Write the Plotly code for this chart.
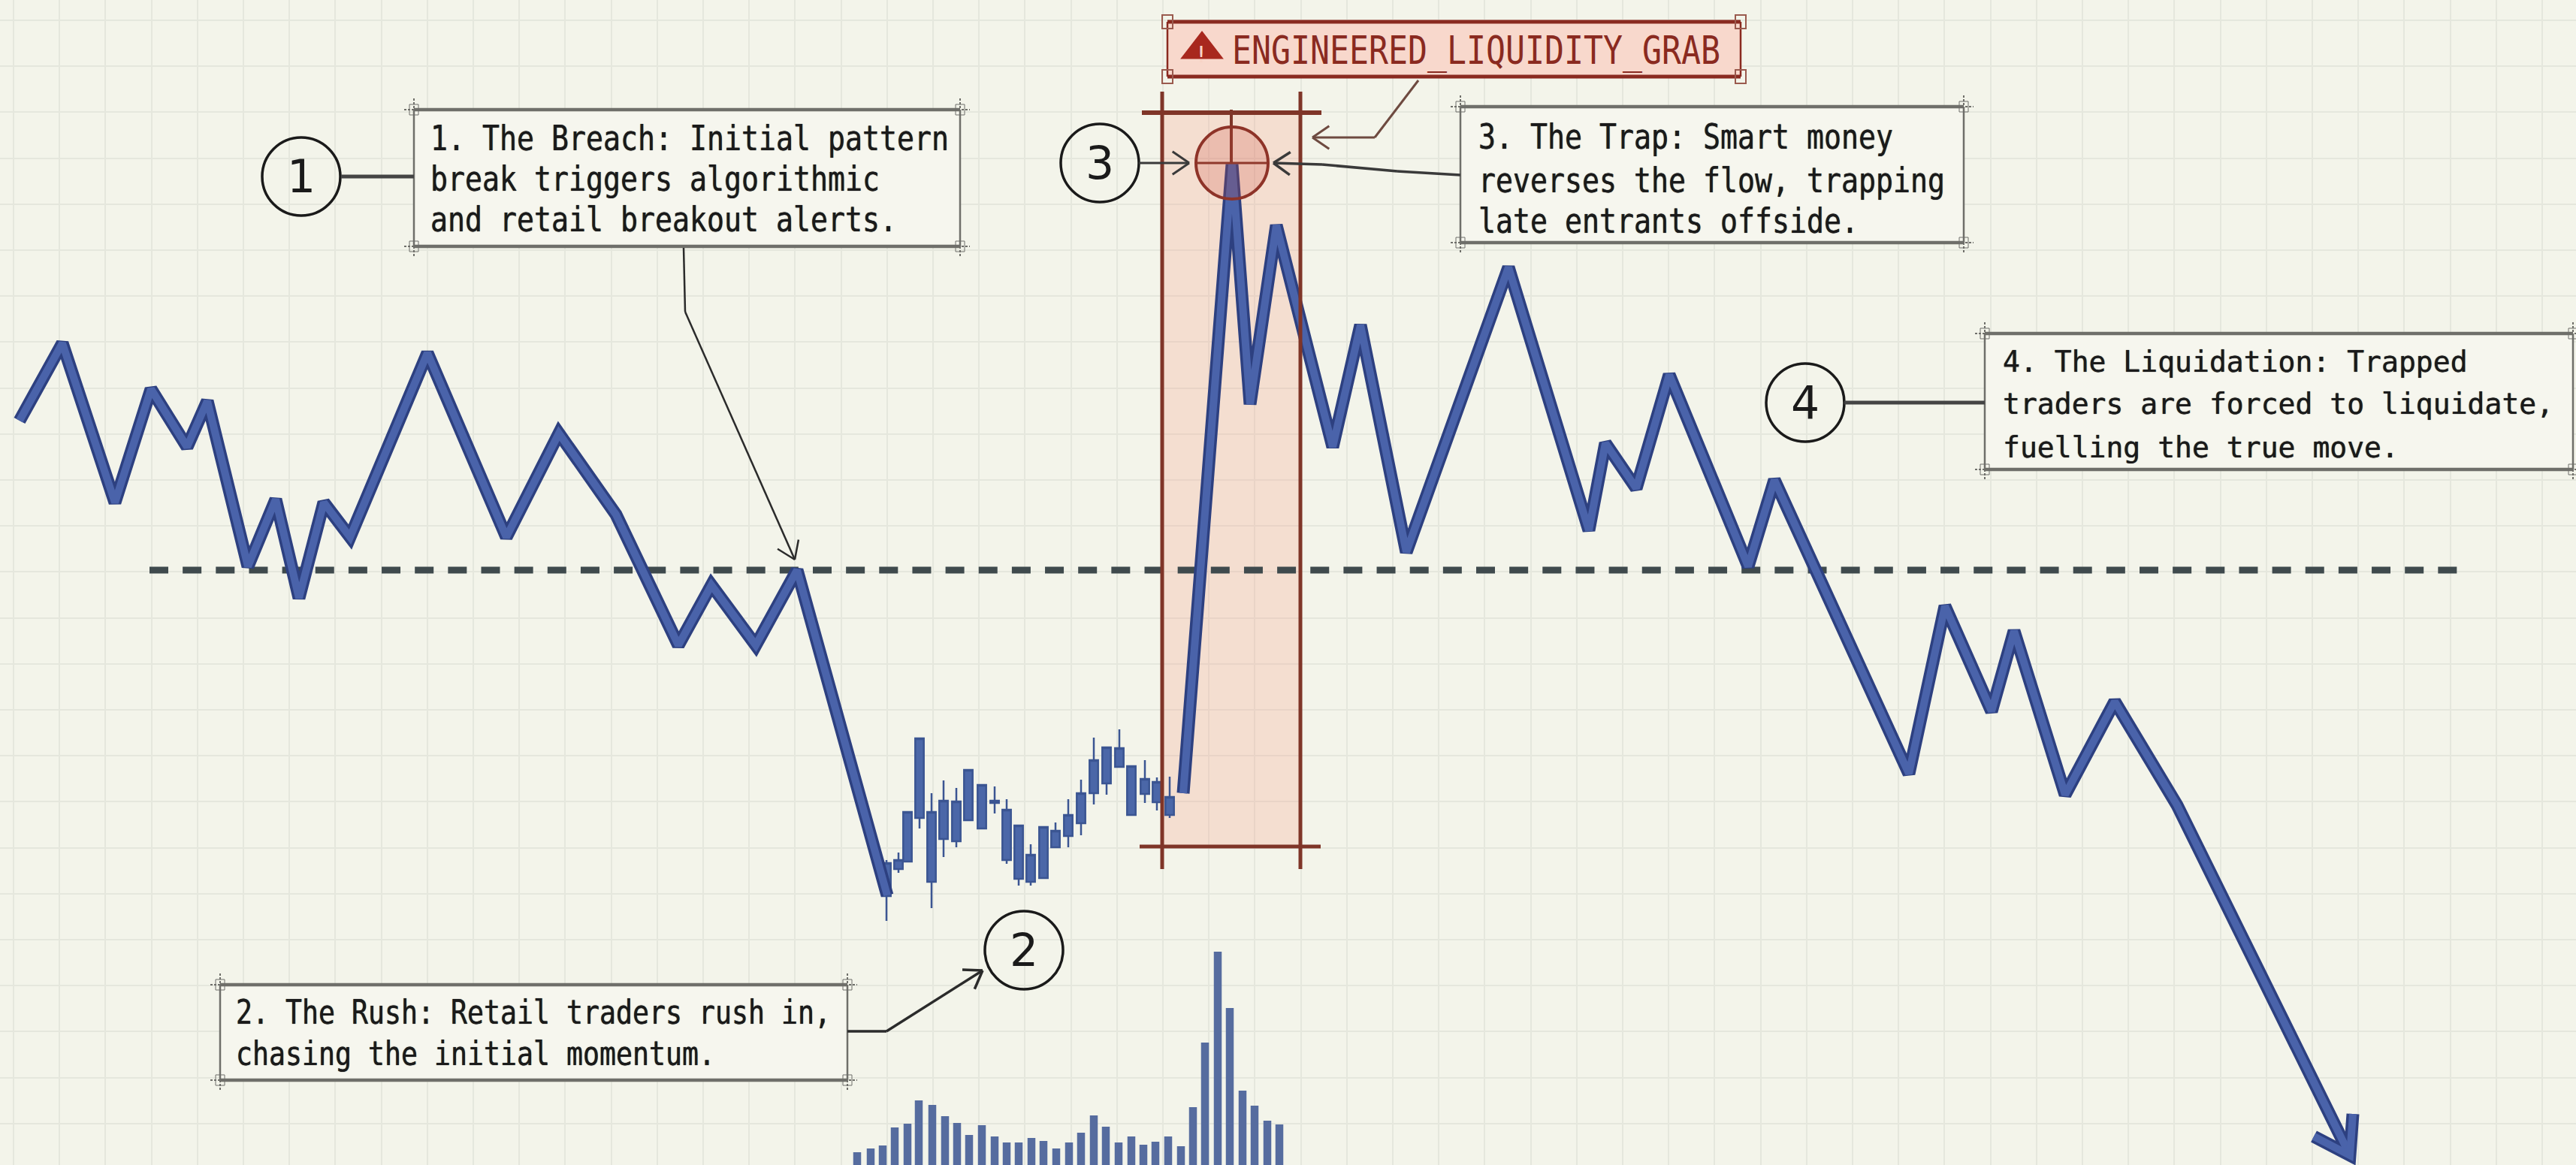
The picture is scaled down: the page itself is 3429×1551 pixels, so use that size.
import math
import plotly.graph_objects as go

W, H = 3429, 1551
BG = "#f3f4ea"; GRID = "#e5e7dd"; BOXFILL = "#f6f6ee"; INK = "#1a1a1a"; GREY = "#6f6f6a"
OUTLINE = "#2d4080"; INNER = "#4a63aa"; RED = "#8a2a20"; BROWN = "#7f3528"

# price path (x position, price level read on the reversed chart scale)
price_x_a = [26, 83, 153, 201, 249, 276, 330, 367, 398, 431, 466, 569, 674, 744, 820, 903, 947, 1006, 1061, 1181]
price_y_a = [560, 457, 669, 518, 595, 534, 754, 665, 796, 669, 715, 470, 715, 577, 685, 859, 779, 859, 759, 1192]
price_x_b = [1575, 1640, 1664, 1699, 1774, 1811, 1872, 2008, 2115, 2137, 2178, 2222, 2327, 2362, 2541, 2589, 2651, 2681, 2749, 2815, 2898, 3128]
price_y_b = [1056, 219, 538, 300, 595, 433, 735, 356, 706, 590, 650, 499, 754, 639, 1030, 807, 947, 840, 1058, 934, 1072, 1538]
arrow_x = [3080, 3128, 3132]
arrow_y = [1513, 1538, 1483]

# candles
candle_x = [1180, 1196, 1208, 1224, 1240, 1256, 1273, 1289, 1307, 1324, 1340, 1356, 1372, 1389, 1405, 1422, 1439, 1456, 1473, 1490, 1506, 1524, 1540, 1557]
candle_high = [1145, 1135, 1081, 983, 1056, 1039, 1049, 1025, 1045, 1047, 1064, 1099, 1124, 1101, 1095, 1064, 1038, 982, 995, 971, 1020, 1012, 1035, 1034]
candle_top = [1149, 1145, 1081, 983, 1081, 1066, 1067, 1025, 1045, 1066, 1078, 1099, 1138, 1101, 1106, 1085, 1056, 1012, 995, 996, 1020, 1037, 1041, 1061]
candle_bot = [1193, 1157, 1147, 1089, 1174, 1117, 1120, 1092, 1103, 1069, 1145, 1170, 1174, 1169, 1128, 1113, 1096, 1056, 1043, 1021, 1085, 1057, 1068, 1085]
candle_low = [1226, 1162, 1147, 1103, 1209, 1141, 1128, 1092, 1103, 1083, 1150, 1179, 1179, 1169, 1128, 1128, 1112, 1071, 1058, 1021, 1085, 1069, 1079, 1089]

# volume
vol_x = [1141, 1159, 1175, 1191, 1208, 1223, 1241, 1258, 1274, 1290, 1307, 1324, 1340, 1356, 1373, 1389, 1406, 1423, 1439, 1456, 1472, 1489, 1506, 1522, 1538, 1555, 1572, 1588, 1604, 1621, 1637, 1654, 1670, 1687, 1703]
vol_h = [17, 22, 26, 50, 55, 86, 80, 65, 56, 40, 53, 38, 30, 30, 36, 32, 22, 30, 43, 66, 51, 30, 38, 27, 31, 38, 25, 77, 163, 284, 209, 99, 79, 59, 54]

level = 759
level_x = [199, 3274]

# callouts: box extents and text lines
callouts = [
    dict(box=(551, 146, 1278, 328), size=46, x=571,
         lines=[("1. The Breach: Initial pattern", 184), ("break triggers algorithmic", 238), ("and retail breakout alerts.", 292)]),
    dict(box=(293, 1311, 1128, 1438), size=44, x=312,
         lines=[("2. The Rush: Retail traders rush in,", 1347), ("chasing the initial momentum.", 1402)]),
    dict(box=(1944, 142, 2614, 323), size=46, x=1966,
         lines=[("3. The Trap: Smart money", 182), ("reverses the flow, trapping", 240), ("late entrants offside.", 294)]),
    dict(box=(2642, 444, 3425, 625), size=39.5, x=2664,
         lines=[("4. The Liquidation: Trapped", 481), ("traders are forced to liquidate,", 537), ("fuelling the true move.", 595)]),
]
circles = [("1", 401, 235), ("2", 1363, 1265), ("3", 1464, 217), ("4", 2403, 536)]

shapes, annos = [], []


def seg(x0, y0, x1, y1, color=INK, width=3, layer="above", dash=None):
    shapes.append(dict(type="line", x0=x0, y0=y0, x1=x1, y1=y1, layer=layer,
                       line=dict(color=color, width=width, dash=dash)))


def pts(points, color, width=3, chevron=True):
    for (a, b), (c, d) in zip(points, points[1:]):
        seg(a, b, c, d, color, width)
    if chevron:
        (a, b), (c, d) = points[-2], points[-1]
        ang = math.atan2(d - b, c - a)
        for s in (-1, 1):
            t = ang + math.pi + s * 0.6
            seg(c, d, c + 27 * math.cos(t), d + 27 * math.sin(t), color, width)


def handle(x, y, color):
    seg(x - 13, y, x + 13, y, color, 2, dash="3px,2px")
    seg(x, y - 15, x, y + 15, color, 2, dash="3px,2px")
    shapes.append(dict(type="rect", x0=x - 6, x1=x + 6, y0=y - 7, y1=y + 7, layer="above",
                       line=dict(color=color, width=1)))


# red band
shapes.append(dict(type="rect", x0=1547, x1=1731, y0=150, y1=1127, layer="between",
                   fillcolor="rgba(248,160,135,0.26)", line=dict(width=0)))
seg(1547, 122, 1547, 1157, BROWN, 5)
seg(1731, 122, 1731, 1157, BROWN, 5)
seg(1517, 1127, 1758, 1127, BROWN, 5)
seg(1520, 150, 1759, 150, BROWN, 6)
seg(1639, 146, 1639, 217, BROWN, 4)
seg(1592, 217, 1688, 217, BROWN, 3)

# highlight ring
shapes.append(dict(type="circle", x0=1592, x1=1688, y0=169, y1=265, layer="above",
                   fillcolor="rgba(205,75,60,0.22)", line=dict(color="#8e3328", width=4)))

# callout boxes
for c in callouts:
    x0, y0, x1, y1 = c["box"]
    shapes.append(dict(type="rect", x0=x0, x1=x1, y0=y0, y1=y1, layer="between", fillcolor=BOXFILL, line=dict(width=0)))
    seg(x0, y0, x1, y0, GREY, 4.5)
    seg(x0, y1, x1, y1, GREY, 4.5)
    seg(x0, y0, x0, y1, GREY, 2.5)
    seg(x1, y0, x1, y1, GREY, 2.5)
    for hx in (x0, x1):
        for hy in (y0, y1):
            handle(hx, hy, GREY)
    for text, ly in c["lines"]:
        annos.append(dict(x=c["x"], y=ly, text=text, showarrow=False,
                          xanchor="left", yanchor="middle", align="left",
                          font=dict(family="DejaVu Sans Mono", size=c["size"], color=INK,
                                    shadow="0 0 1px #1a1a1a")))

# warning box
shapes.append(dict(type="rect", x0=1554, x1=2317, y0=29, y1=102, layer="between",
                   fillcolor="#f8d8cc", line=dict(width=0)))
seg(1554, 29, 2317, 29, RED, 5)
seg(1554, 102, 2317, 102, RED, 5)
seg(1554, 29, 1554, 102, RED, 2.5)
seg(2317, 29, 2317, 102, RED, 2.5)
for hx in (1554, 2317):
    for hy in (29, 102):
        shapes.append(dict(type="rect", x0=hx - 7, x1=hx + 7, y0=hy - 9, y1=hy + 9, layer="above",
                           line=dict(color="#9a5a4e", width=2)))
annos.append(dict(x=1638, y=67, text="ENGINEERED_LIQUIDITY_GRAB", showarrow=False, xanchor="left", yanchor="middle",
                  align="left", font=dict(family="DejaVu Sans Mono", size=52, color=RED)))
annos.append(dict(x=1599, y=72, text="!", showarrow=False, font=dict(family="DejaVu Sans", size=30, color="#f8d3c6")))

# numbered circles
for label, cx, cy in circles:
    shapes.append(dict(type="circle", x0=cx - 52, x1=cx + 52, y0=cy - 52, y1=cy + 52, layer="above",
                       line=dict(color=INK, width=3.5)))
    annos.append(dict(x=cx, y=cy, text=label, showarrow=False, font=dict(family="DejaVu Sans", size=60, color=INK)))

# connectors
pts([(454, 235), (551, 235)], "#444444", 5, chevron=False)
pts([(2455, 536), (2642, 536)], "#444444", 5, chevron=False)
pts([(910, 330), (912, 415), (1058, 745)], "#2b2b2b", 2.5)
pts([(1128, 1373), (1180, 1373), (1308, 1292)], "#2b2b2b", 3.5)
pts([(1516, 217), (1583, 217)], "#3a3a3a", 3)
pts([(1944, 233), (1860, 228), (1760, 219), (1695, 217)], "#3a3a3a", 3.5)
pts([(1888, 107), (1830, 183), (1747, 183)], "#6e4a40", 3)

fig = go.Figure()

fig.add_trace(go.Bar(x=vol_x, y=vol_h, width=10.5, yaxis="y2", marker=dict(color="#566c9f", line=dict(width=0))))

candle_style = dict(line=dict(color="#3b5592", width=2.5), fillcolor="#4b67a8")
fig.add_trace(go.Candlestick(x=candle_x, open=candle_bot, close=candle_top, high=candle_low, low=candle_high,
                             increasing=candle_style, decreasing=candle_style, whiskerwidth=0))

fig.add_trace(go.Scatter(x=level_x, y=[level, level], mode="lines",
                         line=dict(color="#3f4a4d", width=9, dash="25px,19.15px")))

for color, width in ((OUTLINE, 17), (INNER, 10)):
    fig.add_trace(go.Scatter(x=price_x_a + [None] + price_x_b + [None] + arrow_x,
                             y=price_y_a + [None] + price_y_b + [None] + arrow_y,
                             mode="lines", line=dict(color=color, width=width)))

fig.add_trace(go.Scatter(x=[1600], y=[66], mode="markers",
                         marker=dict(symbol="triangle-up", size=50, color="#a8281e")))

fig.update_layout(
    width=W, height=H, margin=dict(l=0, r=0, t=0, b=0), showlegend=False, boxgap=0.05, boxgroupgap=0,
    paper_bgcolor=BG, plot_bgcolor=BG, shapes=shapes, annotations=annos,
    xaxis=dict(range=[0, W], tick0=18, dtick=61.2, showgrid=True, gridcolor=GRID, gridwidth=2,
               showticklabels=False, zeroline=False, showline=False, ticks="", rangeslider=dict(visible=False)),
    yaxis=dict(range=[H, 0], tick0=27, dtick=61.2, showgrid=True, gridcolor=GRID, gridwidth=2,
               showticklabels=False, zeroline=False, showline=False, ticks=""),
    yaxis2=dict(range=[0, H], overlaying="y", showgrid=False, showticklabels=False, zeroline=False,
                showline=False, ticks=""),
)

# the reference's monospace is narrower than DejaVu Sans Mono: condense the real text
condense = """
document.body.style.margin='0';
document.querySelectorAll('.annotation-text').forEach(function(t){
  if (t.style.fontFamily.indexOf('Mono') >= 0) {
    var s = parseFloat(t.style.fontSize);
    var k = s < 40 ? 0.58 : 0.5;
    t.setAttribute('textLength', t.textContent.length * s * k);
    t.setAttribute('lengthAdjust', 'spacingAndGlyphs');
  }
});
"""
fig.write_html("out.html", config=dict(displayModeBar=False), post_script=condense)
